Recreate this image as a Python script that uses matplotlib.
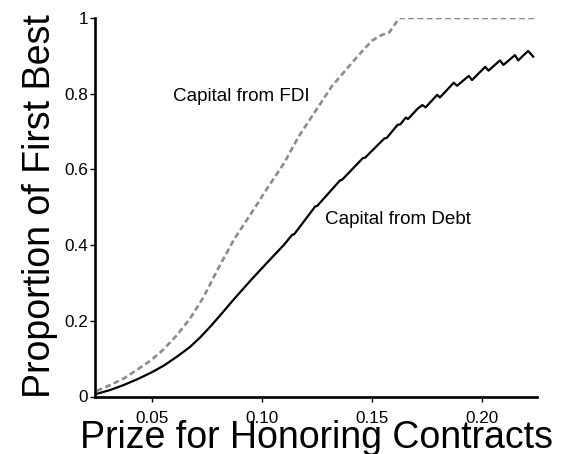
import matplotlib
matplotlib.use("Agg")
import matplotlib.pyplot as plt

plt.rcParams['font.family'] = ['Liberation Sans', 'DejaVu Sans']

# prize for honoring contracts
x_fdi = [0.025, 0.031, 0.0371, 0.0432, 0.0497, 0.0553, 0.0614, 0.0674, 0.0735, 0.080,
         0.0875, 0.095, 0.1025, 0.110, 0.1168, 0.1243, 0.1318, 0.1415, 0.150, 0.1545,
         0.158, 0.1625, 0.225]
y_fdi = [0.015, 0.030, 0.047, 0.070, 0.096, 0.124, 0.162, 0.206, 0.262, 0.336,
         0.416, 0.482, 0.550, 0.615, 0.687, 0.753, 0.819, 0.885, 0.940, 0.955,
         0.962, 1.0, 1.0]

x_debt = [0.025, 0.031, 0.0371, 0.0432, 0.0497, 0.0553, 0.0614, 0.0674, 0.072, 0.0762,
          0.080, 0.0875, 0.095, 0.1025, 0.110, 0.1138, 0.1148, 0.1243, 0.1253, 0.1356,
          0.1366, 0.146, 0.147, 0.1558, 0.1568, 0.1618, 0.163, 0.1655, 0.1665, 0.1708,
          0.1730, 0.1745, 0.1798, 0.181, 0.1873, 0.1888, 0.1941, 0.1956, 0.2016,
          0.2031, 0.2083, 0.2099, 0.2151, 0.2166, 0.2211, 0.2234]
y_debt = [0.007, 0.017, 0.030, 0.045, 0.063, 0.081, 0.105, 0.131, 0.156, 0.182,
          0.207, 0.258, 0.307, 0.354, 0.400, 0.427, 0.429, 0.502, 0.504, 0.571,
          0.573, 0.630, 0.631, 0.682, 0.683, 0.718, 0.719, 0.737, 0.733, 0.760,
          0.770, 0.764, 0.797, 0.790, 0.829, 0.821, 0.847, 0.836, 0.871,
          0.861, 0.888, 0.876, 0.902, 0.888, 0.913, 0.898]

xticks = [0.05, 0.10, 0.15, 0.20]
xticklabels = ["0.05", "0.10", "0.15", "0.20"]
yticks = [0, 0.2, 0.4, 0.6, 0.8, 1]
yticklabels = ["0", "0.2", "0.4", "0.6", "0.8", "1"]

fig = plt.figure(figsize=(5.64, 4.54), dpi=100)
ax = fig.add_axes([95 / 564, 1 - 396.5 / 454, (536.7 - 95) / 564, (396.5 - 18) / 454])

ax.plot(x_fdi, y_fdi, color="#8c8c8c", linewidth=1.9, linestyle=(0, (2.2, 1.3)))
ax.plot(x_debt, y_debt, color="black", linewidth=1.6)

ax.text(0.0597, 0.782, "Capital from FDI", fontsize=13.6, va="baseline", ha="left")
ax.text(0.1288, 0.457, "Capital from Debt", fontsize=13.6, va="baseline", ha="left")

ax.set_xlim(0.0242, 0.225)
ax.set_ylim(0, 1.0)
ax.set_xticks(xticks)
ax.set_xticklabels(xticklabels)
ax.set_yticks(yticks)
ax.set_yticklabels(yticklabels)

for side in ["top", "right"]:
    ax.spines[side].set_visible(False)
for side in ["left", "bottom"]:
    ax.spines[side].set_linewidth(1.9)
    ax.spines[side].set_capstyle("projecting")

ax.tick_params(axis="both", direction="out", length=3.4, width=1.0, labelsize=12.3)
ax.tick_params(axis="x", pad=7)
ax.tick_params(axis="y", pad=1.7)

# axis titles placed by hand, they overlap the tick labels as in the original
fig.text(316 / 564, 6 / 454, "Prize for Honoring Contracts", fontsize=27, ha="center", va="baseline")
fig.text(50 / 564, 1 - 206 / 454, "Proportion of First Best", fontsize=27, rotation=90,
         rotation_mode="anchor", ha="center", va="baseline")

fig.savefig("out.png", dpi=100)
